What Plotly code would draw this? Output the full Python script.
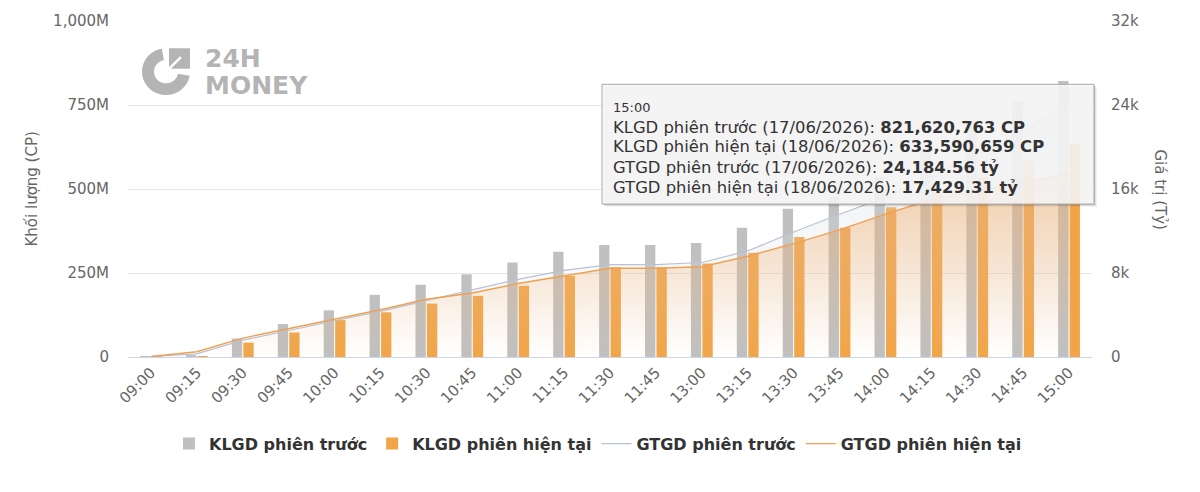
import numpy as np
import plotly.graph_objects as go

# ---------------- data ----------------
times = ["09:00", "09:15", "09:30", "09:45", "10:00", "10:15", "10:30", "10:45",
         "11:00", "11:15", "11:30", "11:45", "13:00", "13:15", "13:30", "13:45",
         "14:00", "14:15", "14:30", "14:45", "15:00"]

# KLGD (million shares)
klgd_prev = [1, 5, 55, 98, 139, 185, 215, 246, 281, 313, 333, 333, 339, 385,
             441, 478, 535, 615, 700, 762, 821.620763]
klgd_cur = [0.5, 2, 43, 73, 110, 133, 159, 182, 212, 241, 267, 267, 278, 310,
            357, 385, 446, 492, 535, 585, 633.590659]

# GTGD (billion VND, "tỷ")
gtgd_prev = [50, 300, 1600, 2550, 3450, 4350, 5400, 6400, 7400, 8250, 8800, 8800,
             9000, 10100, 11900, 13600, 15200, 17200, 19300, 21500, 24184.56]
gtgd_cur = [50, 500, 1800, 2700, 3600, 4500, 5500, 6100, 7000, 7700, 8450, 8450,
            8600, 9600, 10800, 12100, 13600, 15000, 15800, 16600, 17429.31]

y_left_ticks = [0, 250e6, 500e6, 750e6, 1000e6]
y_left_labels = ["0", "250M", "500M", "750M", "1,000M"]
y_right_ticks = [0, 8000, 16000, 24000, 32000]
y_right_labels = ["0", "8k", "16k", "24k", "32k"]

names = ["KLGD phiên trước", "KLGD phiên hiện tại", "GTGD phiên trước", "GTGD phiên hiện tại"]
tooltip_head = "15:00"
tooltip_lines = [
    "KLGD phiên trước (17/06/2026): <b>821,620,763 CP</b>",
    "KLGD phiên hiện tại (18/06/2026): <b>633,590,659 CP</b>",
    "GTGD phiên trước (17/06/2026): <b>24,184.56 tỷ</b>",
    "GTGD phiên hiện tại (18/06/2026): <b>17,429.31 tỷ</b>",
]

# ---------------- styling ----------------
FONT = "DejaVu Sans"
GREY_BAR = "#c0c0c0"
ORANGE_BAR = "#f2a548"
ORANGE_LINE = "#f0a050"
GREY_LINE = "#b8c2d4"

W, H = 1200, 492
L, R, T, B = 128, 108, 12, 135
PW, PH = W - L - R, H - T - B


def px(x):
    return (x - L) / PW


def py(y):
    return (H - B - y) / PH


fig = go.Figure()

fig.add_trace(go.Bar(x=times, y=[v * 1e6 for v in klgd_prev], name=names[0],
                     marker=dict(color=GREY_BAR, line=dict(width=0)), yaxis="y"))
fig.add_trace(go.Bar(x=times, y=[v * 1e6 for v in klgd_cur], name=names[1],
                     marker=dict(color=ORANGE_BAR, line=dict(width=0)), yaxis="y"))

# gradient areas
fig.add_trace(go.Scatter(x=times, y=gtgd_prev, yaxis="y2", mode="lines", fill="tozeroy",
                         line=dict(width=0, color=GREY_LINE), showlegend=False, hoverinfo="skip",
                         fillgradient=dict(type="vertical",
                                           colorscale=[[0, "rgba(215,218,225,0.0)"],
                                                       [1, "rgba(215,218,225,0.45)"]])))
fig.add_trace(go.Scatter(x=times, y=gtgd_cur, yaxis="y2", mode="lines", fill="tozeroy",
                         line=dict(width=0, color=ORANGE_LINE), showlegend=False, hoverinfo="skip",
                         fillgradient=dict(type="vertical",
                                           colorscale=[[0, "rgba(240,160,80,0.0)"],
                                                       [1, "rgba(240,160,80,0.45)"]])))
# lines
fig.add_trace(go.Scatter(x=times, y=gtgd_prev, yaxis="y2", mode="lines", name=names[2],
                         line=dict(width=1.2, color=GREY_LINE)))
fig.add_trace(go.Scatter(x=times, y=gtgd_cur, yaxis="y2", mode="lines", name=names[3],
                         line=dict(width=1.4, color=ORANGE_LINE)))

# ---------------- shapes: tooltip + logo ----------------
shapes = []
for off, a in [(3, 0.05), (2, 0.08), (1, 0.12)]:
    shapes.append(dict(type="rect", xref="paper", yref="paper",
                       x0=px(602 + off), x1=px(1094 + off), y0=py(200 + off), y1=py(77 + off),
                       line=dict(width=0), fillcolor=f"rgba(0,0,0,{a})", layer="above"))
shapes.append(dict(type="rect", xref="paper", yref="paper",
                   x0=px(602), x1=px(1094), y0=py(200), y1=py(77),
                   line=dict(width=1, color="#a8a8a8"), fillcolor="rgba(250,250,250,0.88)",
                   layer="above"))

# logo icon
cx, cy, ro, ri = 166, 64, 24, 12
th = np.radians(np.linspace(100, 350, 60))
outer = [(cx + ro * np.cos(t), cy - ro * np.sin(t)) for t in th]
inner = [(cx + ri * np.cos(t), cy - ri * np.sin(t)) for t in th[::-1]]
pts = outer + inner
path = "M " + " L ".join(f"{px(x):.5f},{py(y):.5f}" for x, y in pts) + " Z"
shapes.append(dict(type="path", xref="paper", yref="paper", path=path,
                   fillcolor="#b4b4b4", line=dict(width=0), layer="above"))
shapes.append(dict(type="rect", xref="paper", yref="paper",
                   x0=px(cx + 3), x1=px(cx + 24), y0=py(cy - 3), y1=py(cy - 24),
                   fillcolor="#b4b4b4", line=dict(width=0), layer="above"))
shapes.append(dict(type="line", xref="paper", yref="paper",
                   x0=px(cx - 2), y0=py(cy + 2), x1=px(cx + 15), y1=py(cy - 15),
                   line=dict(width=2.5, color="white"), layer="above"))

annotations = []
annotations.append(dict(text="<b>24H</b>", x=px(203), y=py(51), xref="paper", yref="paper",
                        xanchor="left", yanchor="middle", showarrow=False,
                        font=dict(family=FONT, size=25, color="#b4b4b4")))
annotations.append(dict(text="<b>MONEY</b>", x=px(203), y=py(78), xref="paper", yref="paper",
                        xanchor="left", yanchor="middle", showarrow=False,
                        font=dict(family=FONT, size=25, color="#b4b4b4")))

# axis titles
annotations.append(dict(text="Khối lượng (CP)", x=px(32), y=py(185), xref="paper", yref="paper",
                        xanchor="center", yanchor="middle", textangle=-90, showarrow=False,
                        font=dict(family=FONT, size=15, color="#666666")))
annotations.append(dict(text="Giá trị (Tỷ)", x=px(1160), y=py(185), xref="paper", yref="paper",
                        xanchor="center", yanchor="middle", textangle=90, showarrow=False,
                        font=dict(family=FONT, size=15, color="#666666")))

# tooltip text
annotations.append(dict(text=tooltip_head, x=px(611), y=py(101), xref="paper", yref="paper",
                        xanchor="left", yanchor="middle", showarrow=False,
                        font=dict(family=FONT, size=13, color="#333333")))
for t, yy in zip(tooltip_lines, [121, 141, 162, 183]):
    annotations.append(dict(text=t, x=px(611), y=py(yy), xref="paper", yref="paper",
                            xanchor="left", yanchor="middle", showarrow=False,
                            font=dict(family=FONT, size=16.4, color="#333333")))

fig.update_layout(
    width=W, height=H,
    margin=dict(l=L, r=R, t=T, b=B, pad=0),
    paper_bgcolor="white", plot_bgcolor="white",
    font=dict(family=FONT, color="#666666"),
    barmode="group", bargap=0.5, bargroupgap=0.1,
    xaxis=dict(type="category", tickangle=-45, tickfont=dict(size=15, color="#666666"),
               showgrid=False, showline=True, linecolor="#ccd6eb", linewidth=1,
               ticks="", fixedrange=True),
    yaxis=dict(range=[0, 1e9], tickvals=y_left_ticks, ticktext=y_left_labels,
               tickfont=dict(size=15, color="#666666"), gridcolor="#e6e6e6",
               zeroline=False, showline=False, ticks="", ticklabelstandoff=18),
    yaxis2=dict(range=[0, 32000], tickvals=y_right_ticks, ticktext=y_right_labels,
                overlaying="y", side="right", showgrid=False, zeroline=False,
                tickfont=dict(size=15, color="#666666"), ticks="", ticklabelstandoff=18),
    legend=dict(orientation="h", x=px(598), xanchor="center", y=py(446), yanchor="middle",
                font=dict(family=FONT, size=16, color="#333333", weight="bold"),
                tracegroupgap=0, bgcolor="rgba(0,0,0,0)"),
    shapes=shapes, annotations=annotations,
    hovermode=False,
)

fig.write_html("out.html")
